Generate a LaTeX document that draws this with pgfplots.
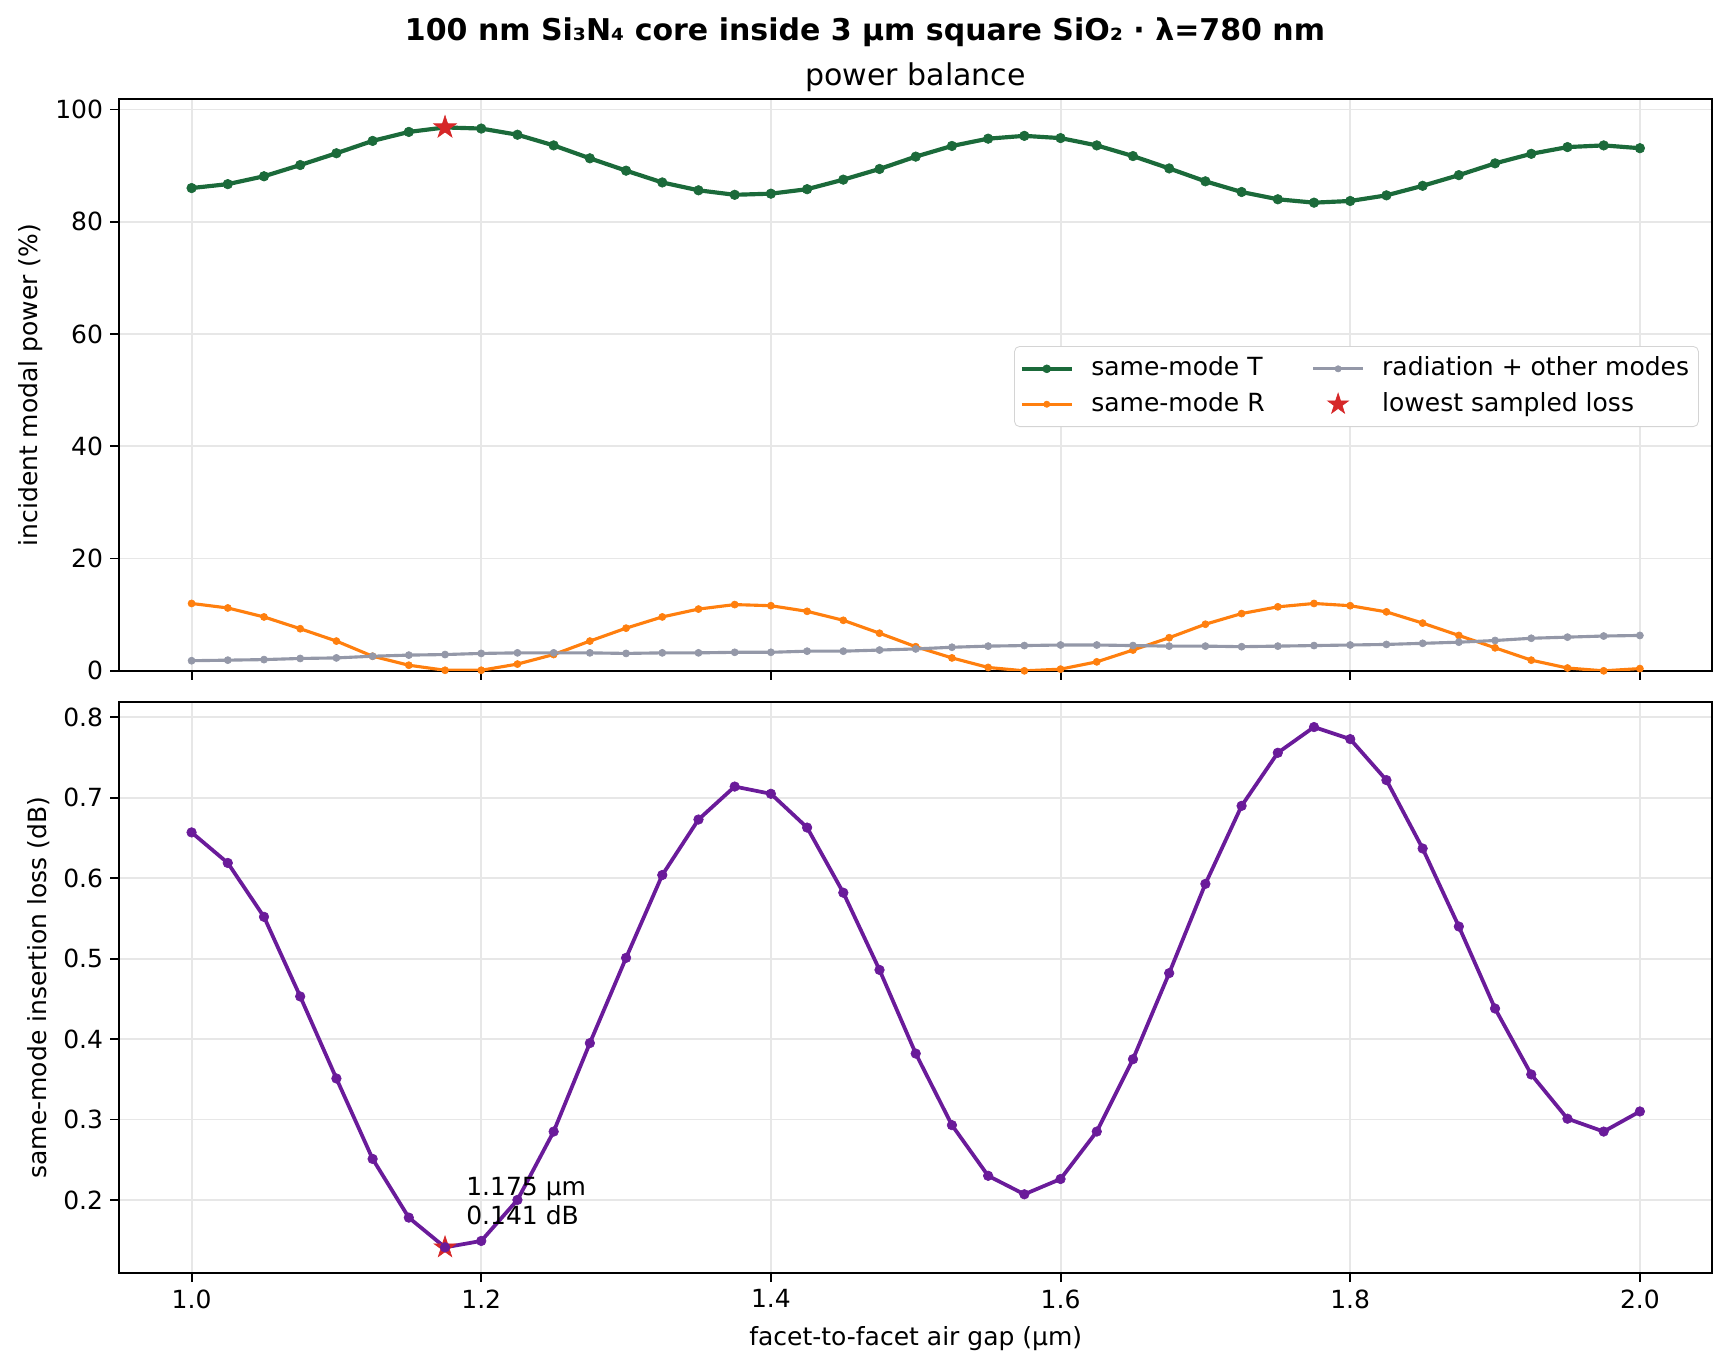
\documentclass[border=0pt]{standalone}
\usepackage{fontspec}
\setmainfont{DejaVu Sans}
\usepackage{pgfplots}
\usepackage{pgfplotstable}
\pgfplotsset{compat=1.18}

\definecolor{tcol}{RGB}{27,106,58}
\definecolor{rcol}{RGB}{255,127,14}
\definecolor{radcol}{RGB}{148,152,168}
\definecolor{ilcol}{RGB}{106,27,154}
\definecolor{starcol}{RGB}{214,39,40}
\definecolor{gridcol}{RGB}{231,231,231}

% filled five-pointed star
\pgfdeclareplotmark{fstar}{%
  \pgfpathmoveto{\pgfpointpolar{90}{\pgfplotmarksize}}%
  \pgfpathlineto{\pgfpointpolar{126}{0.382\pgfplotmarksize}}%
  \pgfpathlineto{\pgfpointpolar{162}{\pgfplotmarksize}}%
  \pgfpathlineto{\pgfpointpolar{198}{0.382\pgfplotmarksize}}%
  \pgfpathlineto{\pgfpointpolar{234}{\pgfplotmarksize}}%
  \pgfpathlineto{\pgfpointpolar{270}{0.382\pgfplotmarksize}}%
  \pgfpathlineto{\pgfpointpolar{306}{\pgfplotmarksize}}%
  \pgfpathlineto{\pgfpointpolar{342}{0.382\pgfplotmarksize}}%
  \pgfpathlineto{\pgfpointpolar{18}{\pgfplotmarksize}}%
  \pgfpathlineto{\pgfpointpolar{54}{0.382\pgfplotmarksize}}%
  \pgfpathclose
  \pgfusepathqfillstroke}

% gap (um), T (%), R (%), radiation (%), insertion loss (dB)
\pgfplotstableread{
x     T     R     rad  IL
1.000 86.0  12.0  1.8  0.657
1.025 86.7  11.2  1.9  0.619
1.050 88.1  9.6   2.0  0.552
1.075 90.1  7.5   2.2  0.453
1.100 92.2  5.3   2.3  0.351
1.125 94.4  2.6   2.6  0.251
1.150 96.0  1.0   2.8  0.178
1.175 96.8  0.1   2.9  0.141
1.200 96.6  0.1   3.1  0.149
1.225 95.5  1.2   3.2  0.200
1.250 93.6  2.9   3.2  0.285
1.275 91.3  5.3   3.2  0.395
1.300 89.1  7.6   3.1  0.501
1.325 87.0  9.6   3.2  0.604
1.350 85.6  11.0  3.2  0.673
1.375 84.8  11.8  3.3  0.714
1.400 85.0  11.6  3.3  0.705
1.425 85.8  10.6  3.5  0.663
1.450 87.5  9.0   3.5  0.582
1.475 89.4  6.7   3.7  0.486
1.500 91.6  4.3   3.9  0.382
1.525 93.5  2.3   4.2  0.293
1.550 94.8  0.6   4.4  0.230
1.575 95.3  0.0   4.5  0.207
1.600 94.9  0.3   4.6  0.226
1.625 93.6  1.6   4.6  0.285
1.650 91.7  3.7   4.5  0.375
1.675 89.5  5.9   4.4  0.482
1.700 87.2  8.3   4.4  0.593
1.725 85.3  10.2  4.3  0.690
1.750 84.0  11.4  4.4  0.756
1.775 83.4  12.0  4.5  0.788
1.800 83.7  11.6  4.6  0.773
1.825 84.7  10.5  4.7  0.722
1.850 86.4  8.5   4.9  0.637
1.875 88.3  6.3   5.1  0.540
1.900 90.4  4.1   5.4  0.438
1.925 92.1  1.9   5.8  0.356
1.950 93.3  0.5   6.0  0.301
1.975 93.6  0.0   6.2  0.285
2.000 93.1  0.4   6.3  0.310
}\gapdata

\pgfplotsset{
  common/.style={
    width=764.7pt, height=274.3pt, scale only axis,
    xmin=0.95, xmax=2.05,
    xtick={1.0,1.2,1.4,1.6,1.8,2.0},
    tick pos=left, tick align=outside,
    major tick length=4.2pt,
    every tick/.style={black, line width=0.9pt},
    axis line style={line width=0.9pt},
    grid=major,
    major grid style={line width=0.9pt, gridcol},
    tick label style={font=\fontsize{12}{14}\selectfont},
    label style={font=\fontsize{12}{14}\selectfont},
    /pgf/number format/assume math mode=true,
  },
  ptmark/.style={mark=*, mark options={solid, line width=0.3pt}},
  lineleg/.style={legend image code/.code={\draw[mark repeat=2, mark phase=2, ##1]
    plot coordinates {(0pt,0pt) (12pt,0pt) (24pt,0pt)};}},
  starleg/.style={only marks, mark=fstar,
    legend image code/.code={\draw[##1] plot coordinates {(12pt,0pt)};}},
}

\begin{document}
\begin{tikzpicture}
\useasboundingbox (-57.2pt,47.7pt) rectangle (773.2pt,-609.9pt);

\node[anchor=base, font=\bfseries\fontsize{14.4}{17}\selectfont] at (358pt,28.1pt)
  {100 nm Si₃N₄ core inside 3 μm square SiO₂ · λ=780 nm};
\node[anchor=base, font=\fontsize{14.4}{17}\selectfont] at (382.35pt,6.8pt) {power balance};

\begin{axis}[common,
  at={(0pt,0pt)}, anchor=north west,
  xticklabels={},
  ymin=0, ymax=101.8,
  ytick={0,20,40,60,80,100},
  ylabel={incident modal power (\%)},
  ylabel style={at={(axis description cs:-0.0554,0.5)}, anchor=center},
  legend columns=2,
  legend cell align=left,
  legend style={at={(axis description cs:0.9916,0.4975)}, anchor=east,
    font=\fontsize{12}{14}\selectfont,
    draw={rgb,255:red,212;green,212;blue,212}, rounded corners=2.5pt,
    inner xsep=2.5pt, inner ysep=3pt,
    row sep=1.5pt,
    nodes={inner sep=2pt, text height=9pt, text depth=2.5pt},
    /tikz/every odd column/.append style={column sep=6.4pt},
    /tikz/every even column/.append style={column sep=20.5pt}},
]
\addlegendimage{lineleg, tcol, line width=2pt, ptmark, mark size=1.9pt}
\addlegendentry{same-mode T}
\addlegendimage{lineleg, radcol, line width=1.5pt, ptmark, mark size=1.5pt}
\addlegendentry{radiation + other modes}
\addlegendimage{lineleg, rcol, line width=1.5pt, ptmark, mark size=1.5pt}
\addlegendentry{same-mode R}
\addlegendimage{starleg, mark size=5.3pt, mark options={starcol, fill=starcol, line width=0.3pt}}
\addlegendentry{lowest sampled loss}

\addplot[forget plot, tcol, line width=2pt, ptmark, mark size=2.3pt] table[x=x, y=T] {\gapdata};
\addplot[forget plot, rcol, line width=1.5pt, ptmark, mark size=1.7pt] table[x=x, y=R] {\gapdata};
\addplot[forget plot, radcol, line width=1.5pt, ptmark, mark size=1.7pt] table[x=x, y=rad] {\gapdata};
\addplot[forget plot, only marks, mark=fstar, mark size=5.7pt,
  mark options={starcol, fill=starcol, line width=0.3pt}] coordinates {(1.175,96.8)};
\end{axis}

\begin{axis}[common,
  at={(0pt,-289.2pt)}, anchor=north west,
  xticklabel style={/pgf/number format/.cd, fixed, fixed zerofill, precision=1},
  yticklabel style={/pgf/number format/.cd, fixed, fixed zerofill, precision=1},
  ymin=0.1087, ymax=0.8193,
  ytick={0.2,0.3,0.4,0.5,0.6,0.7,0.8},
  xlabel={facet-to-facet air gap (μm)},
  xlabel style={at={(axis description cs:0.5,-0.1134)}, anchor=center},
  ylabel={same-mode insertion loss (dB)},
  ylabel style={at={(axis description cs:-0.0506,0.5)}, anchor=center},
]
\addplot[only marks, mark=fstar, mark size=5.5pt,
  mark options={starcol, fill=starcol, line width=0.3pt}] coordinates {(1.175,0.141)};
\addplot[ilcol, line width=1.8pt, ptmark, mark size=2.3pt] table[x=x, y=IL] {\gapdata};
\node[anchor=base west, inner sep=0pt, xshift=10pt, yshift=25.1pt, font=\fontsize{12}{14}\selectfont]
  at (axis cs:1.175,0.141) {1.175 μm};
\node[anchor=base west, inner sep=0pt, xshift=10pt, yshift=11pt, font=\fontsize{12}{14}\selectfont]
  at (axis cs:1.175,0.141) {0.141 dB};
\end{axis}
\end{tikzpicture}
\end{document}
